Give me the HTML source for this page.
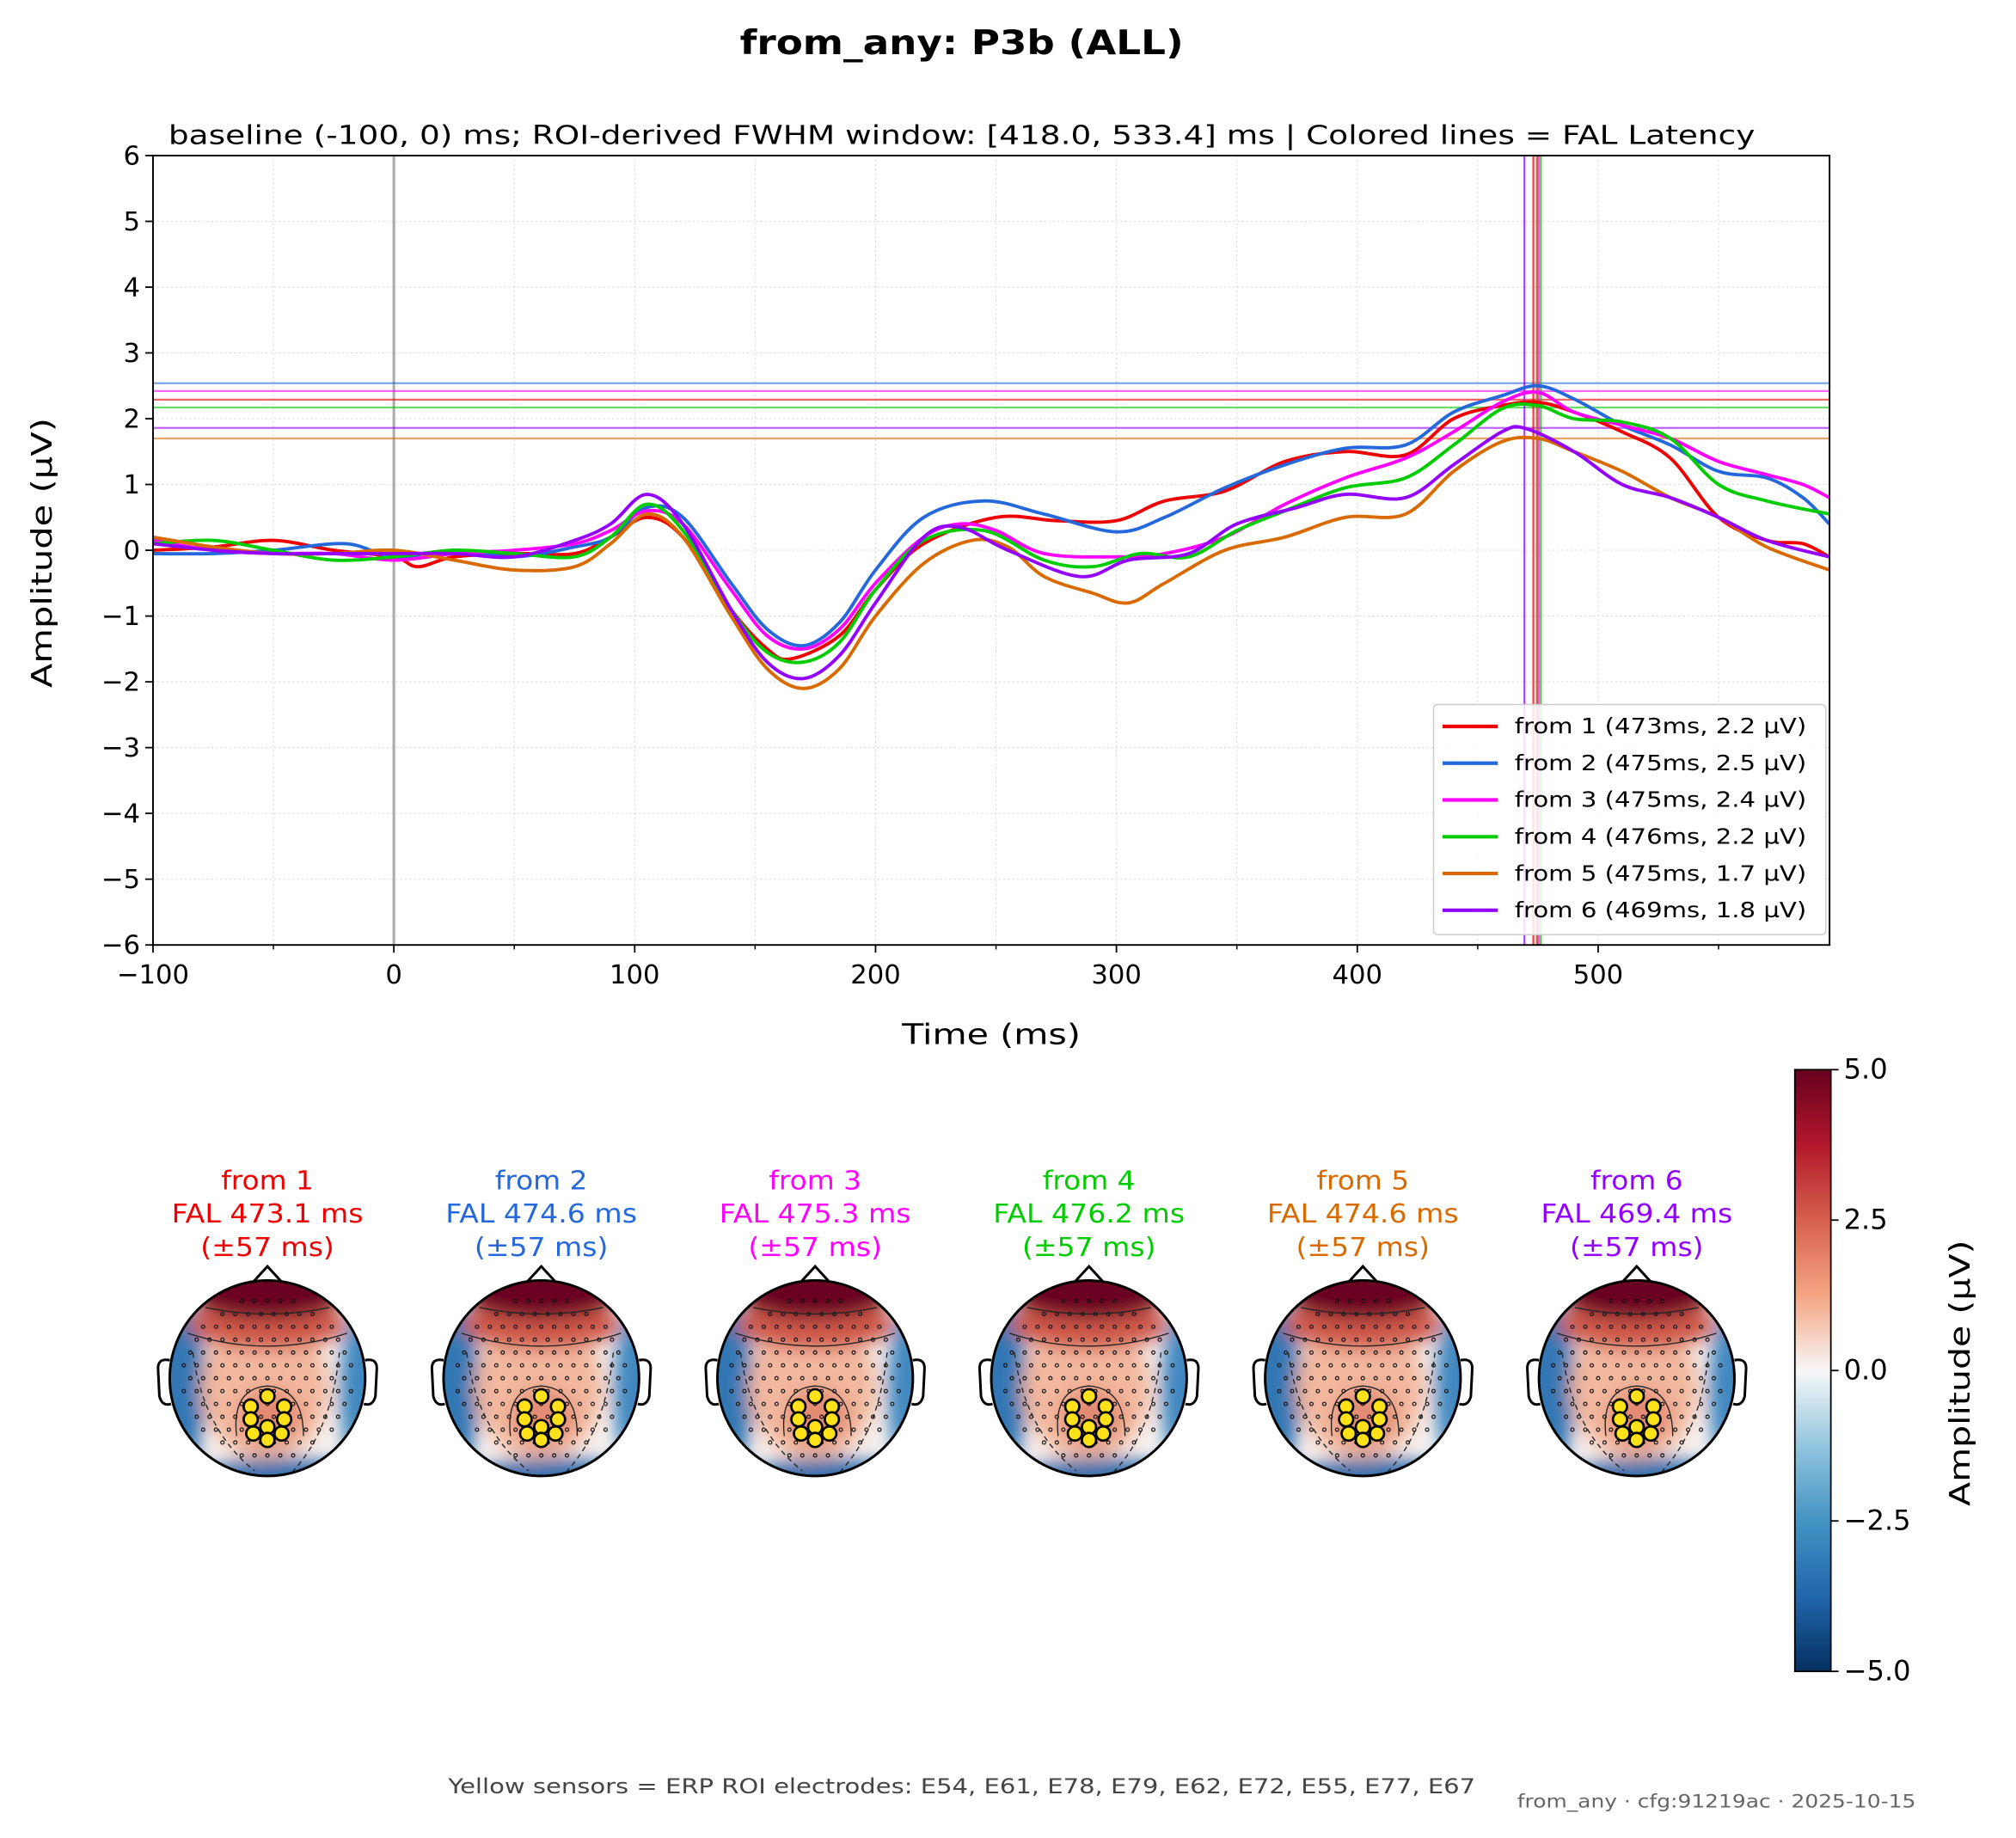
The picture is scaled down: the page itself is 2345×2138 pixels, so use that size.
<!DOCTYPE html>
<html><head><meta charset="utf-8"><style>
html,body{margin:0;padding:0;background:#fff}
svg{display:block}
text{font-family:"DejaVu Sans","Liberation Sans",sans-serif}
</style></head><body>
<svg id="fig" width="2345" height="2138" viewBox="0 0 1568 1429.6" preserveAspectRatio="none" xmlns="http://www.w3.org/2000/svg">
<defs>
<filter id="blur" x="-50%" y="-50%" width="200%" height="200%"><feGaussianBlur stdDeviation="7"/></filter>
<linearGradient id="cbar" x1="0" y1="0" x2="0" y2="1">
<stop offset="0" stop-color="#67001f"/><stop offset="0.125" stop-color="#b2182b"/><stop offset="0.25" stop-color="#d6604d"/><stop offset="0.375" stop-color="#f4a582"/><stop offset="0.5" stop-color="#f7f7f7"/><stop offset="0.625" stop-color="#92c5de"/><stop offset="0.75" stop-color="#4393c3"/><stop offset="0.875" stop-color="#2166ac"/><stop offset="1" stop-color="#053061"/>
</linearGradient>
</defs>
<text x="748" y="42" font-size="26" font-weight="bold" text-anchor="middle" textLength="345" lengthAdjust="spacingAndGlyphs">from_any: P3b (ALL)</text>
<text x="748" y="112" font-size="20.5" text-anchor="middle" textLength="1234" lengthAdjust="spacingAndGlyphs">baseline (-100, 0) ms; ROI-derived FWHM window: [418.0, 533.4] ms | Colored lines = FAL Latency</text>
<g id="plot"></g>
<g id="topos"></g>
<g id="cb"></g>
<text x="748" y="1395" font-size="16" fill="#444" text-anchor="middle" textLength="799" lengthAdjust="spacingAndGlyphs">Yellow sensors = ERP ROI electrodes: E54, E61, E78, E79, E62, E72, E55, E77, E67</text>
<text x="1490" y="1406" font-size="14" fill="#666" text-anchor="end" textLength="310" lengthAdjust="spacingAndGlyphs">from_any · cfg:91219ac · 2025-10-15</text>
</svg>
<script>
const NS="http://www.w3.org/2000/svg";
const names=["from 1","from 2","from 3","from 4","from 5","from 6"];
const colors=["#ee0000","#2468dc","#ff00ff","#00cc00","#d96a00","#9400ff"];
const latencies=[473.1,474.6,475.3,476.2,474.6,469.4];
const peaks=[2.29,2.54,2.42,2.17,1.70,1.86];
const legendLat=[473,475,475,476,475,469];
const legendAmp=[2.2,2.5,2.4,2.2,1.7,1.8];
const s1=[[-100,0],[-75,0.05],[-50,0.15],[-25,0],[0,-0.1],[10,-0.25],[25,-0.1],[50,-0.05],[75,-0.05],[90,0.2],[105,0.5],[120,0.2],[140,-0.9],[155,-1.5],[165,-1.65],[185,-1.3],[200,-0.6],[220,0.1],[250,0.5],[275,0.45],[300,0.45],[320,0.75],[345,0.9],[370,1.35],[395,1.5],[420,1.45],[440,2.0],[460,2.2],[475,2.25],[490,2.1],[510,1.8],[530,1.4],[550,0.5],[570,0.15],[585,0.1],[596,-0.1]];
const s2=[[-100,-0.05],[-75,-0.05],[-50,0],[-20,0.1],[0,-0.1],[25,0],[50,-0.1],[75,0.05],[90,0.2],[105,0.65],[120,0.5],[140,-0.5],[155,-1.2],[170,-1.45],[185,-1.1],[200,-0.3],[220,0.5],[245,0.75],[270,0.55],[300,0.28],[320,0.5],[345,0.95],[370,1.3],[395,1.55],[420,1.6],[440,2.1],[460,2.35],[475,2.5],[490,2.3],[510,1.9],[530,1.6],[550,1.2],[570,1.1],[585,0.8],[596,0.4]];
const s3=[[-100,0.15],[-75,0],[-50,-0.05],[-25,-0.05],[0,-0.15],[25,-0.05],[50,0],[75,0.1],[90,0.3],[105,0.6],[120,0.4],[140,-0.6],[155,-1.3],[170,-1.5],[185,-1.2],[200,-0.5],[220,0.2],[235,0.4],[250,0.3],[270,-0.05],[300,-0.1],[320,-0.05],[345,0.2],[370,0.7],[395,1.1],[420,1.4],[440,1.8],[460,2.25],[475,2.4],[490,2.1],[510,1.9],[530,1.7],[550,1.35],[570,1.15],[585,1.0],[596,0.8]];
const s4=[[-100,0.1],[-75,0.15],[-50,0],[-25,-0.15],[0,-0.1],[25,0],[50,-0.05],[75,-0.1],[90,0.2],[105,0.7],[120,0.3],[140,-0.9],[155,-1.55],[170,-1.7],[185,-1.4],[200,-0.6],[220,0.15],[245,0.3],[270,-0.15],[290,-0.25],[310,-0.05],[330,-0.1],[350,0.3],[370,0.6],[395,0.95],[420,1.1],[440,1.6],[460,2.15],[475,2.2],[490,2.0],[510,1.95],[530,1.7],[550,1.0],[570,0.75],[596,0.55]];
const s5=[[-100,0.2],[-75,0.05],[-50,-0.05],[-25,-0.05],[0,0],[25,-0.15],[50,-0.3],[75,-0.25],[90,0.1],[105,0.55],[120,0.2],[140,-1.0],[155,-1.8],[170,-2.1],[185,-1.8],[200,-1.0],[220,-0.2],[240,0.15],[255,0.05],[270,-0.4],[290,-0.65],[305,-0.8],[320,-0.5],[345,0],[370,0.2],[395,0.5],[420,0.55],[440,1.2],[460,1.65],[475,1.7],[490,1.5],[510,1.2],[530,0.8],[550,0.5],[570,0.05],[596,-0.3]];
const s6=[[-100,0.1],[-75,0],[-50,-0.05],[-25,-0.05],[0,-0.05],[25,-0.05],[50,-0.1],[75,0.15],[90,0.4],[105,0.85],[120,0.4],[140,-0.9],[155,-1.7],[170,-1.95],[185,-1.6],[200,-0.8],[220,0.2],[235,0.35],[255,0],[285,-0.4],[305,-0.15],[330,-0.05],[350,0.4],[375,0.65],[395,0.85],[420,0.8],[440,1.3],[460,1.8],[470,1.85],[490,1.5],[510,1.0],[530,0.8],[550,0.5],[570,0.15],[596,-0.1]];
const series=[s1,s2,s3,s4,s5,s6];
const xTicks=[-100,0,100,200,300,400,500];
const yTicks=[-6,-5,-4,-3,-2,-1,0,1,2,3,4,5,6];
const cbTicks=[5.0,2.5,0.0,-2.5,-5.0];

const X0=119,X1=1423,Y0=121,Y1=735;
const xs=t=>X0+(t+100)*(1243-119)/600;
const ys=v=>428-v*(735-121)/12;
function el(tag,attrs,parent,txt){const e=document.createElementNS(NS,tag);for(const k in attrs)e.setAttribute(k,attrs[k]);if(txt!==undefined)e.textContent=txt;parent.appendChild(e);return e;}
const P=document.getElementById('plot');
for(let t=-100;t<=596;t+=50){const g=el('line',{x1:xs(t),x2:xs(t),y1:Y0,y2:Y1,stroke:'#ddd','stroke-width':0.8,'stroke-dasharray':'1.5,2'},P);

}
for(const v of yTicks){const g=el('line',{x1:X0,x2:X1,y1:ys(v),y2:ys(v),stroke:'#ddd','stroke-width':0.8,'stroke-dasharray':'1.5,2'},P);

}
const z=el('line',{x1:xs(0),x2:xs(0),y1:Y0,y2:Y1,stroke:'#aaa','stroke-width':2},P);


peaks.forEach((p,i)=>{const l=el('line',{x1:X0,x2:X1,y1:ys(p),y2:ys(p),stroke:colors[i],'stroke-width':1.5,opacity:0.6},P);

});
latencies.forEach((t,i)=>{const l=el('line',{x1:xs(t),x2:xs(t),y1:Y0,y2:Y1,stroke:colors[i],'stroke-width':1.5,opacity:0.75},P);

});
function smooth(pts){let d=`M${pts[0][0]},${pts[0][1]}`;for(let i=0;i<pts.length-1;i++){const p0=pts[Math.max(0,i-1)],p1=pts[i],p2=pts[i+1],p3=pts[Math.min(pts.length-1,i+2)];
const c1=[p1[0]+(p2[0]-p0[0])/6,p1[1]+(p2[1]-p0[1])/6],c2=[p2[0]-(p3[0]-p1[0])/6,p2[1]-(p3[1]-p1[1])/6];d+=` C${c1[0]},${c1[1]} ${c2[0]},${c2[1]} ${p2[0]},${p2[1]}`;}return d;}
series.forEach((s,i)=>{const pts=s.map(([t,v])=>[xs(t),ys(v)]);const l=el('path',{d:smooth(pts),fill:'none',stroke:colors[i],'stroke-width':2.6},P);

});
const fr=el('rect',{x:X0,y:Y0,width:X1-X0,height:Y1-Y0,fill:'none',stroke:'#000','stroke-width':1.3},P);


for(const t of xTicks){el('line',{x1:xs(t),x2:xs(t),y1:Y1,y2:Y1+6,stroke:'#000','stroke-width':1.2},P);
const tx=el('text',{x:xs(t),y:Y1+30,'font-size':20.5,'text-anchor':'middle'},P,t<0?'\u2212'+(-t):String(t));

}
for(let t=-50;t<=596;t+=100)el('line',{x1:xs(t),x2:xs(t),y1:Y1,y2:Y1+3.5,stroke:'#000','stroke-width':1},P);
for(const v of yTicks){el('line',{x1:X0-6,x2:X0,y1:ys(v),y2:ys(v),stroke:'#000','stroke-width':1.2},P);
const tx=el('text',{x:X0-10,y:ys(v)+7,'font-size':20.5,'text-anchor':'end'},P,v<0?'\u2212'+(-v):String(v));

}
const xl=el('text',{x:771,y:812,'font-size':22,'text-anchor':'middle',textLength:139,lengthAdjust:'spacingAndGlyphs'},P,'Time (ms)');


const yl=el('text',{x:40,y:430,'font-size':22,'text-anchor':'middle',textLength:210,lengthAdjust:'spacingAndGlyphs',transform:'rotate(-90 40 430)'},P,'Amplitude (µV)');


const L=el('g',{},P);


el('rect',{x:1115,y:548,width:305,height:179,rx:3,fill:'#fff','fill-opacity':0.85,stroke:'#ccc'},L);
names.forEach((n,i)=>{const y=565+i*28.6;const g=el('g',{},L);


el('line',{x1:1122,x2:1165,y1:y,y2:y,stroke:colors[i],'stroke-width':2.8},g);
el('text',{x:1178,y:y+5.5,'font-size':16.5,textLength:227,lengthAdjust:'spacingAndGlyphs'},g,`${n} (${legendLat[i]}ms, ${legendAmp[i].toFixed(1)} µV)`);});
const T=document.getElementById('topos');
const cxs=[208,421,634,847,1060,1273],cy=1072,R=76;
const sens=[[0,14],[-13,22],[13,22],[-13,32],[13,32],[0,38],[-11,43],[11,43],[0,48]];
const tl=[72,149,104];
cxs.forEach((cx,i)=>{const g=el('g',{},T);


const lines=[names[i],`FAL ${latencies[i].toFixed(1)} ms`,'(±57 ms)'];
lines.forEach((s,k)=>el('text',{x:cx,y:925+k*26,'font-size':20,fill:colors[i],'text-anchor':'middle',textLength:tl[k],lengthAdjust:'spacingAndGlyphs'},g,s));
const cid='clip'+i;const cp=el('clipPath',{id:cid},g);el('circle',{cx,cy,r:R},cp);
const inner=el('g',{'clip-path':`url(#${cid})`},g);
el('circle',{cx,cy,r:R,fill:'#f6f2f0'},inner);
const bl=el('g',{filter:'url(#blur)'},inner);
el('ellipse',{cx:cx-74,cy:cy+8,rx:26,ry:75,fill:'#3277b4'},bl);
el('ellipse',{cx:cx+76,cy:cy+10,rx:20,ry:65,fill:'#3f87c0'},bl);
el('ellipse',{cx:cx+10,cy:cy+88,rx:80,ry:26,fill:'#2d6fae'},bl);
el('ellipse',{cx:cx-2,cy:cy+8,rx:50,ry:55,fill:'#f3b89e'},bl);
el('ellipse',{cx:cx+2,cy:cy+30,rx:25,ry:22,fill:'#e38c73'},bl);
el('ellipse',{cx:cx,cy:cy-42,rx:62,ry:20,fill:'#cf5849'},bl);
el('ellipse',{cx:cx,cy:cy-70,rx:62,ry:24,fill:'#6b0221'},bl);
for(let yy=-60;yy<=70;yy+=10)for(let xx=-70;xx<=70;xx+=10){const ox=xx+((yy/10)%2?5:0);if(ox*ox+yy*yy<66*66)el('circle',{cx:cx+ox,cy:cy+yy,r:1.3,fill:'none',stroke:'#111','stroke-width':0.8},inner);}
el('path',{d:`M${cx-48},${cy-55} Q${cx},${cy-45} ${cx+48},${cy-55} M${cx-62},${cy-35} Q${cx},${cy-15} ${cx+62},${cy-35} M${cx-24},${cy+45} Q${cx-28},${cy+8} ${cx},${cy+6} Q${cx+28},${cy+8} ${cx+28},${cy+45}`,fill:'none',stroke:'#222','stroke-width':0.9},inner);
el('path',{d:`M${cx-58},${cy-20} Q${cx-50},${cy+40} ${cx-10},${cy+72} M${cx+56},${cy-20} Q${cx+50},${cy+40} ${cx+20},${cy+72}`,fill:'none',stroke:'#222','stroke-width':0.9,'stroke-dasharray':'4,3'},inner);
el('circle',{cx,cy,r:R,fill:'none',stroke:'#000','stroke-width':2},g);
el('path',{d:`M${cx-11},${cy-R+1} L${cx},${cy-R-11} L${cx+11},${cy-R+1}`,fill:'none',stroke:'#000','stroke-width':2},g);
el('path',{d:`M${cx-R},${cy-14} Q${cx-R-10},${cy-16} ${cx-R-9},${cy-6} L${cx-R-8},${cy+14} Q${cx-R-6},${cy+22} ${cx-R+1},${cy+20}`,fill:'none',stroke:'#000','stroke-width':2},g);
el('path',{d:`M${cx+R},${cy-14} Q${cx+R+10},${cy-16} ${cx+R+9},${cy-6} L${cx+R+8},${cy+14} Q${cx+R+6},${cy+22} ${cx+R-1},${cy+20}`,fill:'none',stroke:'#000','stroke-width':2},g);
sens.forEach(([dx,dy])=>el('circle',{cx:cx+dx,cy:cy+dy,r:5.5,fill:'#ffe11a',stroke:'#000','stroke-width':1.8},g));
});
const C=document.getElementById('cb');
const cby0=832,cby1=1300;
el('rect',{x:1396,y:cby0,width:28,height:cby1-cby0,fill:'url(#cbar)',stroke:'#000','stroke-width':1.2},C);
cbTicks.forEach(v=>{const y=cby0+(5-v)/10*(cby1-cby0);el('line',{x1:1424,x2:1430,y1:y,y2:y,stroke:'#000','stroke-width':1.2},C);
const tx=el('text',{x:1434,y:y+7,'font-size':21.5},C,(v<0?'\u2212':'')+Math.abs(v).toFixed(1));

});
const cl=el('text',{x:1532,y:1068,'font-size':22,'text-anchor':'middle',textLength:207,lengthAdjust:'spacingAndGlyphs',transform:'rotate(-90 1532 1068)'},C,'Amplitude (µV)');


</script>
</body></html>
